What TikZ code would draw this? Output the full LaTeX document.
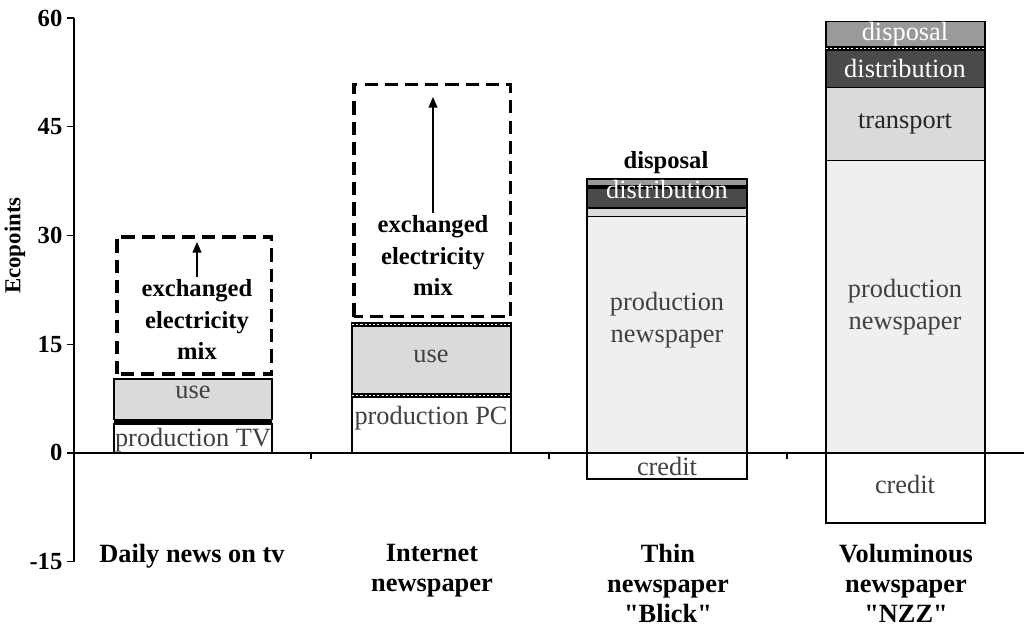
\documentclass[tikz,border=0pt]{standalone}
\usepackage{fontspec}
\setmainfont{Liberation Serif}
\usetikzlibrary{arrows.meta}

\definecolor{prodfill}{HTML}{EFEFEF}
\definecolor{usefill}{HTML}{DADADA}
\definecolor{distfill}{HTML}{4A4A4A}
\definecolor{dispfill}{HTML}{9A9A9A}
\definecolor{labelgray}{HTML}{404040}

\begin{document}
\begin{tikzpicture}[x=0.02cm, y=0.145cm, line width=0.75pt,
    mixbox/.style={draw, line width=1.9pt, dash pattern=on 7.5pt off 4pt},
    dotline/.style={draw=white, line width=0.6pt, dash pattern=on 1.2pt off 1.2pt},
    barlabel/.style={font=\fontsize{15}{18}\selectfont, text=labelgray, inner sep=0pt, align=center},
    whitelabel/.style={font=\fontsize{15}{18}\selectfont, text=white, inner sep=0pt},
    boldlabel/.style={font=\fontsize{14}{18}\selectfont\bfseries, align=center, inner sep=1pt},
    catlabel/.style={font=\fontsize{15}{17}\selectfont\bfseries, align=center, anchor=north},
    ticklabel/.style={font=\fontsize{14}{16}\selectfont\bfseries, anchor=east, inner sep=0pt},
    uparrow/.style={-{Triangle[length=6pt,width=5pt]}, line width=0.8pt}]
    \useasboundingbox (0,-24.14) rectangle (1024,62.48);

    % daily news on tv
    \draw[fill=white] (114,0) rectangle (272,4.0);
    \fill (114,4.0) rectangle (272,4.6);
    \draw[fill=usefill] (114,4.6) rectangle (272,10.2);
    \draw[mixbox] (117,10.9) rectangle (271.5,29.8);
    \node[barlabel] (tvprod) at (193,1.7) {production TV};
    \node[barlabel] (tvuse) at (193,8.4) {use};
    \node[boldlabel] (tvmix) at (197,18.4) {exchanged\\electricity\\mix};
    \coordinate (tvtop) at (197,29.1);
    \draw[uparrow] (tvmix.north) -- (tvtop);

    % internet newspaper
    \draw[fill=white] (352,0) rectangle (511,7.7);
    \filldraw (352,7.7) rectangle (511,8.2);
    \draw[dotline] (352,7.95) -- (511,7.95);
    \draw[fill=usefill] (352,8.2) rectangle (511,17.5);
    \filldraw (352,17.5) rectangle (511,18.0);
    \draw[dotline] (352,17.75) -- (511,17.75);
    \draw[mixbox] (354,18.8) rectangle (510.5,50.8);
    \node[barlabel] (netprod) at (431,4.8) {production PC};
    \node[barlabel] (netuse) at (431,13.3) {use};
    \node[boldlabel] (netmix) at (433,27.2) {exchanged\\electricity\\mix};
    \coordinate (nettop) at (433,49.1);
    \draw[uparrow] (netmix.north) -- (nettop);

    % thin newspaper
    \draw[fill=white] (587,-3.6) rectangle (747,0);
    \draw[fill=prodfill] (587,0) rectangle (747,32.6);
    \draw[fill=usefill] (587,32.6) rectangle (747,33.8);
    \draw[fill=distfill] (587,33.8) rectangle (747,36.5);
    \filldraw (587,36.5) rectangle (747,36.8);
    \draw[fill=dispfill] (587,36.8) rectangle (747,37.8);
    \node[barlabel] (blickcredit) at (667,-1.9) {credit};
    \node[barlabel] (blickprod) at (667,18.3) {production\\newspaper};
    \node[whitelabel] (blickdist) at (667,36.4) {distribution};
    \node[boldlabel] (blickdisp) at (666,40.1) {disposal};

    % voluminous newspaper
    \draw[fill=white, line width=1pt] (826,-9.7) rectangle (985,0);
    \draw[fill=prodfill] (826,0) rectangle (985,40.3);
    \draw[fill=usefill] (826,40.3) rectangle (985,50.4);
    \draw[fill=distfill] (826,50.4) rectangle (985,55.6);
    \filldraw (826,55.6) rectangle (985,56.0);
    \draw[dotline] (826,55.8) -- (985,55.8);
    \draw[fill=dispfill] (826,56.0) rectangle (985,59.5);
    \node[barlabel] (nzzcredit) at (905,-4.4) {credit};
    \node[barlabel] (nzzprod) at (905,20.1) {production\\newspaper};
    \node[barlabel, text=black!85] (nzztrans) at (905,45.4) {transport};
    \node[whitelabel] (nzzdist) at (905,53.1) {distribution};
    \node[whitelabel] (nzzdisp) at (905,57.7) {disposal};

    % axes
    \draw (74,-15) -- (74,60);
    \draw (67,0) -- (1024,0);
    \foreach \v in {-15,0,15,30,45,60} {
        \draw (67,\v) -- (74,\v);
        \node[ticklabel] (tick\v) at (63,\v) {\v};
    }
    \foreach \x in {311,549,787}
        \draw (\x,0) -- (\x,-0.85);
    \node[rotate=90, font=\fontsize{13}{14}\selectfont\bfseries] (ylabel) at (15,28.6) {Ecopoints};

    % categories
    \node[catlabel] (cattv) at (192,-11.7) {Daily news on tv};
    \node[catlabel] (catnet) at (432,-11.7) {Internet\\newspaper};
    \node[catlabel] (catblick) at (668,-11.7) {Thin\\newspaper\\\textquotedbl Blick\textquotedbl};
    \node[catlabel] (catnzz) at (906,-11.7) {Voluminous\\newspaper\\\textquotedbl NZZ\textquotedbl};
\end{tikzpicture}
\end{document}
